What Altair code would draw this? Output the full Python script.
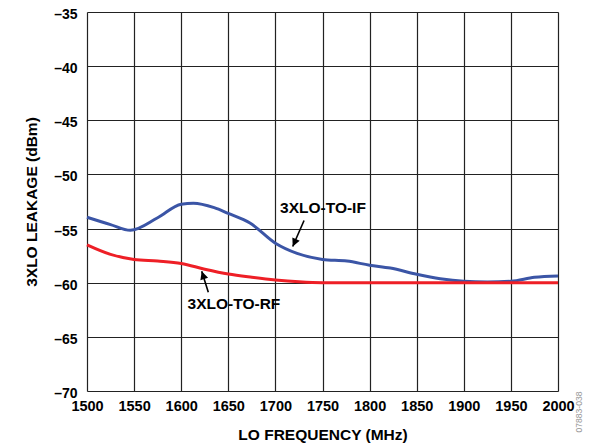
import altair as alt
import pandas as pd

# LO frequency (MHz) and 3XLO leakage (dBm)
freq_if = [1500, 1525, 1546, 1575, 1600, 1613, 1635, 1650, 1673, 1700, 1723, 1750,
           1776, 1800, 1822, 1850, 1875, 1900, 1925, 1950, 1975, 2000]
leak_if = [-53.95, -54.63, -55.16, -54.0, -52.75, -52.66, -53.07, -53.6, -54.48, -56.35,
           -57.29, -57.85, -58.0, -58.38, -58.65, -59.22, -59.63, -59.87, -59.94, -59.87,
           -59.5, -59.38]

freq_rf = [1500, 1525, 1550, 1575, 1600, 1625, 1650, 1675, 1700, 1725, 1750, 1800,
           1850, 1900, 1950, 2000]
leak_rf = [-56.5, -57.38, -57.85, -58.0, -58.22, -58.75, -59.2, -59.5, -59.75, -59.92,
           -60.0, -60.0, -60.0, -60.0, -60.0, -60.0]

x_ticks = list(range(1500, 2001, 50))
y_ticks = list(range(-70, -34, 5))

# annotations: label text, label position, arrow tail, arrow tip, head angle
ann_text = ["3XLO-TO-IF", "3XLO-TO-RF"]
ann_x = [1750.5, 1656]
ann_y = [-53.07, -62.0]
arr_x1 = [1730.4, 1628.8]
arr_y1 = [-54.25, -60.88]
arr_x2 = [1718.4, 1621.8]
arr_y2 = [-56.66, -58.94]
arr_ang = [204, 342]

df = pd.concat([
    pd.DataFrame({"freq": freq_if, "leak": leak_if, "series": "IF"}),
    pd.DataFrame({"freq": freq_rf, "leak": leak_rf, "series": "RF"}),
])
ann = pd.DataFrame({"text": ann_text, "x": ann_x, "y": ann_y,
                    "x1": arr_x1, "y1": arr_y1, "x2": arr_x2, "y2": arr_y2,
                    "ang": arr_ang})

FONT = "Liberation Sans"

xscale = alt.Scale(domain=[1500, 2000], nice=False, zero=False)
yscale = alt.Scale(domain=[-70, -35], nice=False, zero=False)

xaxis = alt.Axis(values=x_ticks, title="LO FREQUENCY (MHz)", format="d",
                 grid=True, gridColor="#222222", gridWidth=1.2, gridOpacity=1,
                 domain=False, ticks=False, labelPadding=8,
                 labelFont=FONT, labelFontSize=14.5, labelFontWeight="bold", labelColor="black",
                 titleFont=FONT, titleFontSize=15.5, titleFontWeight="bold", titleColor="black",
                 titlePadding=15, labelFlush=False)
yaxis = alt.Axis(values=y_ticks, title="3XLO LEAKAGE (dBm)",
                 labelExpr="'–' + abs(datum.value)",
                 grid=True, gridColor="#222222", gridWidth=1.2, gridOpacity=1,
                 domain=False, ticks=False, labelPadding=10,
                 labelBaseline="alphabetic", labelOffset=6.5,
                 labelFont=FONT, labelFontSize=14, labelFontWeight="bold", labelColor="black",
                 titleFont=FONT, titleFontSize=15.5, titleFontWeight="bold", titleColor="black",
                 titlePadding=14, labelFlush=False)

lines = alt.Chart(df).mark_line(strokeWidth=3, interpolate="monotone").encode(
    x=alt.X("freq:Q", scale=xscale, axis=xaxis),
    y=alt.Y("leak:Q", scale=yscale, axis=yaxis),
    color=alt.Color("series:N", scale=alt.Scale(domain=["IF", "RF"],
                                                range=["#3B55A6", "#EE1F26"]), legend=None),
)

shafts = alt.Chart(ann).mark_rule(color="black", strokeWidth=1.6).encode(
    x=alt.X("x1:Q", scale=xscale), y=alt.Y("y1:Q", scale=yscale),
    x2="x2:Q", y2="y2:Q",
)

heads = alt.Chart(ann).mark_point(shape="M0,0 L-0.5,1 L0.5,1 Z", filled=True,
                                  color="black", opacity=1, size=260).encode(
    x=alt.X("x2:Q", scale=xscale), y=alt.Y("y2:Q", scale=yscale),
    angle=alt.Angle("ang:Q", scale=None),
)

labels = alt.Chart(ann).mark_text(font=FONT, fontSize=15.5, fontWeight="bold",
                                  color="black", align="center", baseline="middle").encode(
    x=alt.X("x:Q", scale=xscale), y=alt.Y("y:Q", scale=yscale), text="text:N",
)

stamp = alt.Chart(pd.DataFrame({"t": ["07883-038"]})).mark_text(
    font=FONT, fontSize=8.6, color="#999999", angle=270, align="center", baseline="middle"
).encode(x=alt.value(492), y=alt.value(400), text="t:N")

chart = alt.layer(lines, shafts, heads, labels, stamp).properties(
    width=471, height=379,
    autosize=alt.AutoSizeParams(type="none"),
    padding={"left": 79, "top": 4, "right": 26, "bottom": 54},
).configure_view(stroke="black", strokeWidth=2.2).configure(background="white")

chart.save("out.html", embed_options={"renderer": "svg", "actions": False})
